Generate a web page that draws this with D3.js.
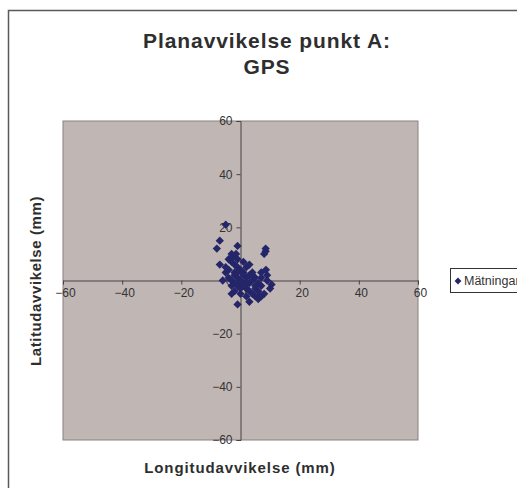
<!DOCTYPE html>
<html><head><meta charset="utf-8">
<script src="https://cdn.jsdelivr.net/npm/d3@7"></script>
<style>
html,body{margin:0;padding:0;background:#fff;}
svg{display:block;}
text{font-family:"Liberation Sans",Arial,sans-serif;}
</style></head>
<body>
<script>
const titleLines = ["Planavvikelse punkt A:", "GPS"];
const xTitle = "Longitudavvikelse (mm)";
const yTitle = "Latitudavvikelse (mm)";
const seriesName = "Mätningar";
const xTicks = [-60, -40, -20, 0, 20, 40, 60];
const yTicks = [-60, -40, -20, 0, 20, 40, 60];
const xVals = [-5,-7,-8,-1,-3,-7,-4,-3,-2,-1,-4,-2,0,1,2,3,-1,0,1,2,3,4,5,6,-1,0,2,3,4,5,6,7,8,2,5,6,-2,-3,-4,-5,-6,-1,8.5,8.5,8,8.6,9,10.5,10,9,7,4,1,-2,-3,0,3,6,4,2,-1,7,3,-1,1,0,-2,-5,-3,5,7,-2.5,-1.5,1.5];
const yVals = [21,15,12,13,10,6,8,7,6,5,4,3,4,3,5,2,1,0,-1,1,-1,0,1,-1,-2,-3,-3,-4,-5,-3,-4,-2,-5,-6,-6,-7,-4,-2,1,3,0,-9,12,11,10,4,2,-1.5,-3,0,1,3,7,2,0,-5,-8,-6,2,-1,3,-6,6,8,2,-1,-1,5,-5,-2,3,9,10,-2];

const W = 517, H = 488;
const svg = d3.select("body").append("svg").attr("width", W).attr("height", H);

// outer chart border
svg.append("rect").attr("x", 8.5).attr("y", 10.5).attr("width", 540).attr("height", 500)
  .attr("fill", "#fff").attr("stroke", "#5a5a5a").attr("stroke-width", 1.5);

const plot = {l: 63, r: 418, t: 121, b: 440};
const x = d3.scaleLinear().domain([-60, 60]).range([plot.l, plot.r]);
const y = d3.scaleLinear().domain([-60, 60]).range([plot.b, plot.t]);

svg.append("rect").attr("x", plot.l).attr("y", plot.t).attr("width", plot.r - plot.l).attr("height", plot.b - plot.t)
  .attr("fill", "#c0b6b4").attr("stroke", "#8a8280").attr("stroke-width", 1);

// x axis at y=0
const xAxis = d3.axisBottom(x).tickValues(xTicks).tickSize(4).tickPadding(4).tickFormat(d3.format("d"));
const gx = svg.append("g").attr("transform", `translate(0,${y(0)})`).call(xAxis);
gx.select(".domain").attr("stroke", "#444");
gx.selectAll(".tick line").attr("stroke", "#444");
gx.selectAll(".tick text").attr("font-size", 12).attr("fill", "#333").attr("font-family", "Liberation Sans, Arial, sans-serif").attr("dx", 2);

const yAxis = d3.axisLeft(y).tickValues(yTicks).tickSize(4).tickPadding(4).tickFormat(d3.format("d"));
const gy = svg.append("g").attr("transform", `translate(${x(0)},0)`).call(yAxis);
gy.select(".domain").attr("stroke", "#444");
gy.selectAll(".tick line").attr("stroke", "#444");
gy.selectAll(".tick text").attr("font-size", 12).attr("fill", "#333").attr("font-family", "Liberation Sans, Arial, sans-serif");

// points
const diamond = d3.symbol().type(d3.symbolDiamond2).size(44);
const pts = xVals.map((v, i) => [v, yVals[i]]);
svg.append("g").selectAll("path").data(pts).join("path")
  .attr("d", diamond)
  .attr("transform", d => `translate(${x(d[0])},${y(d[1])})`)
  .attr("fill", "#25256a");

// title
const title = svg.append("text").attr("text-anchor", "middle").attr("font-weight", "bold")
  .attr("font-size", 21).attr("fill", "#2e2e2e").attr("letter-spacing", 0.9);
title.selectAll("tspan").data(titleLines).join("tspan")
  .attr("x", 267).attr("y", (d, i) => 48 + i * 26).text(d => d);

svg.append("text").attr("x", 240).attr("y", 473).attr("text-anchor", "middle")
  .attr("font-weight", "bold").attr("font-size", 15).attr("letter-spacing", 0.9).attr("fill", "#2e2e2e").text(xTitle);
svg.append("text").attr("transform", `translate(41,${281}) rotate(-90)`).attr("text-anchor", "middle")
  .attr("font-weight", "bold").attr("font-size", 15).attr("letter-spacing", 0.6).attr("fill", "#2e2e2e").text(yTitle);

// legend
const lg = svg.append("g").attr("transform", "translate(450,268)");
lg.append("rect").attr("x", 0.5).attr("y", 0.5).attr("width", 120).attr("height", 24)
  .attr("fill", "#fff").attr("stroke", "#333").attr("stroke-width", 1);
lg.append("path").attr("d", d3.symbol().type(d3.symbolDiamond2).size(30)).attr("transform", "translate(8,13)").attr("fill", "#25256a");
lg.append("text").attr("x", 14).attr("y", 17).attr("font-size", 12.5).attr("fill", "#333").text(seriesName);
</script>
</body></html>
